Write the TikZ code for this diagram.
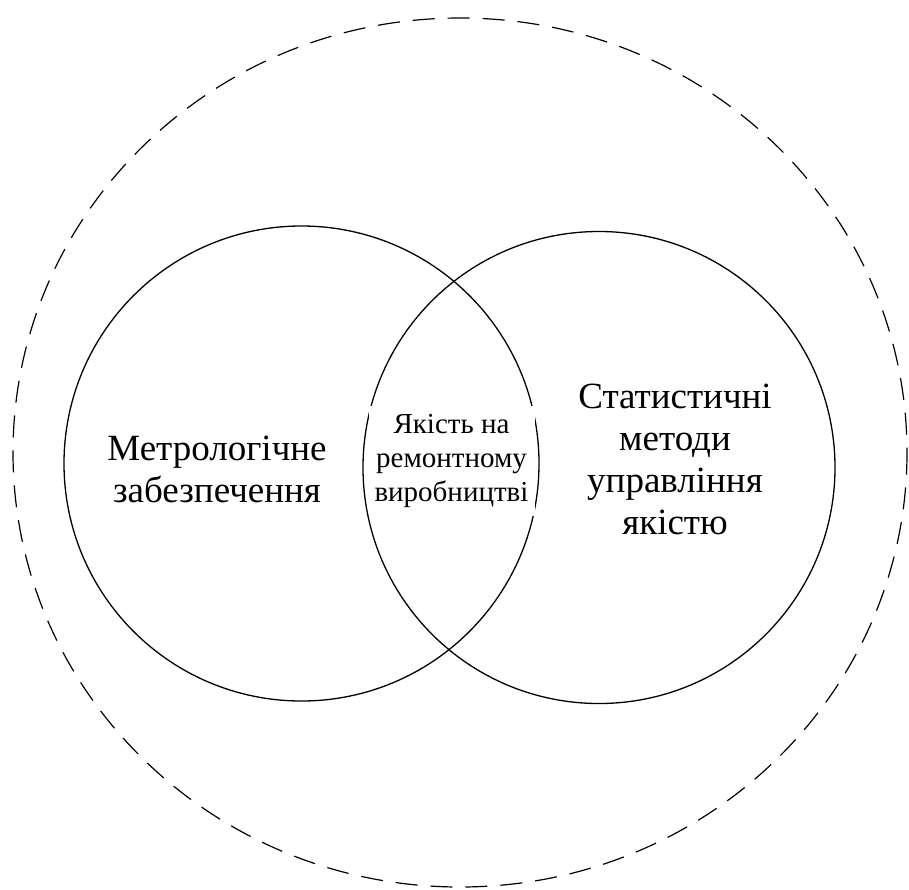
\documentclass[tikz,border=0pt]{standalone}
\usepackage{fontspec}
\setmainfont{Liberation Serif}
\begin{document}
\begin{tikzpicture}[x=1pt,y=-1pt,
  ring/.style={draw=black,line width=1.3pt},
  outerring/.style={draw=black,line width=1.2pt,dash pattern=on 22pt off 13pt},
  bigtext/.style={align=center,font=\fontsize{37}{42}\selectfont},
  coretext/.style={align=center,fill=white,inner sep=0pt,
    minimum width=166pt,minimum height=110pt,font=\fontsize{29}{34}\selectfont}]
  \useasboundingbox (0,0) rectangle (909,889);
  % outer dashed boundary
  \draw[outerring] (460,452.5) ellipse [x radius=447, y radius=434.5];
  % the two overlapping circles
  \draw[ring] (301.5,463.5) circle [radius=237.5];
  \draw[ring] (599,467.5) circle [radius=236];
  % labels
  \node[bigtext] (metro) at (217,469) {Метрологічне\\забезпечення};
  \node[bigtext] (stat) at (675,459) {Статистичні\\методи\\управління\\якістю};
  \node[coretext] (core) at (451.5,461) {Якість на\\ремонтному\\виробництві};
\end{tikzpicture}
\end{document}
